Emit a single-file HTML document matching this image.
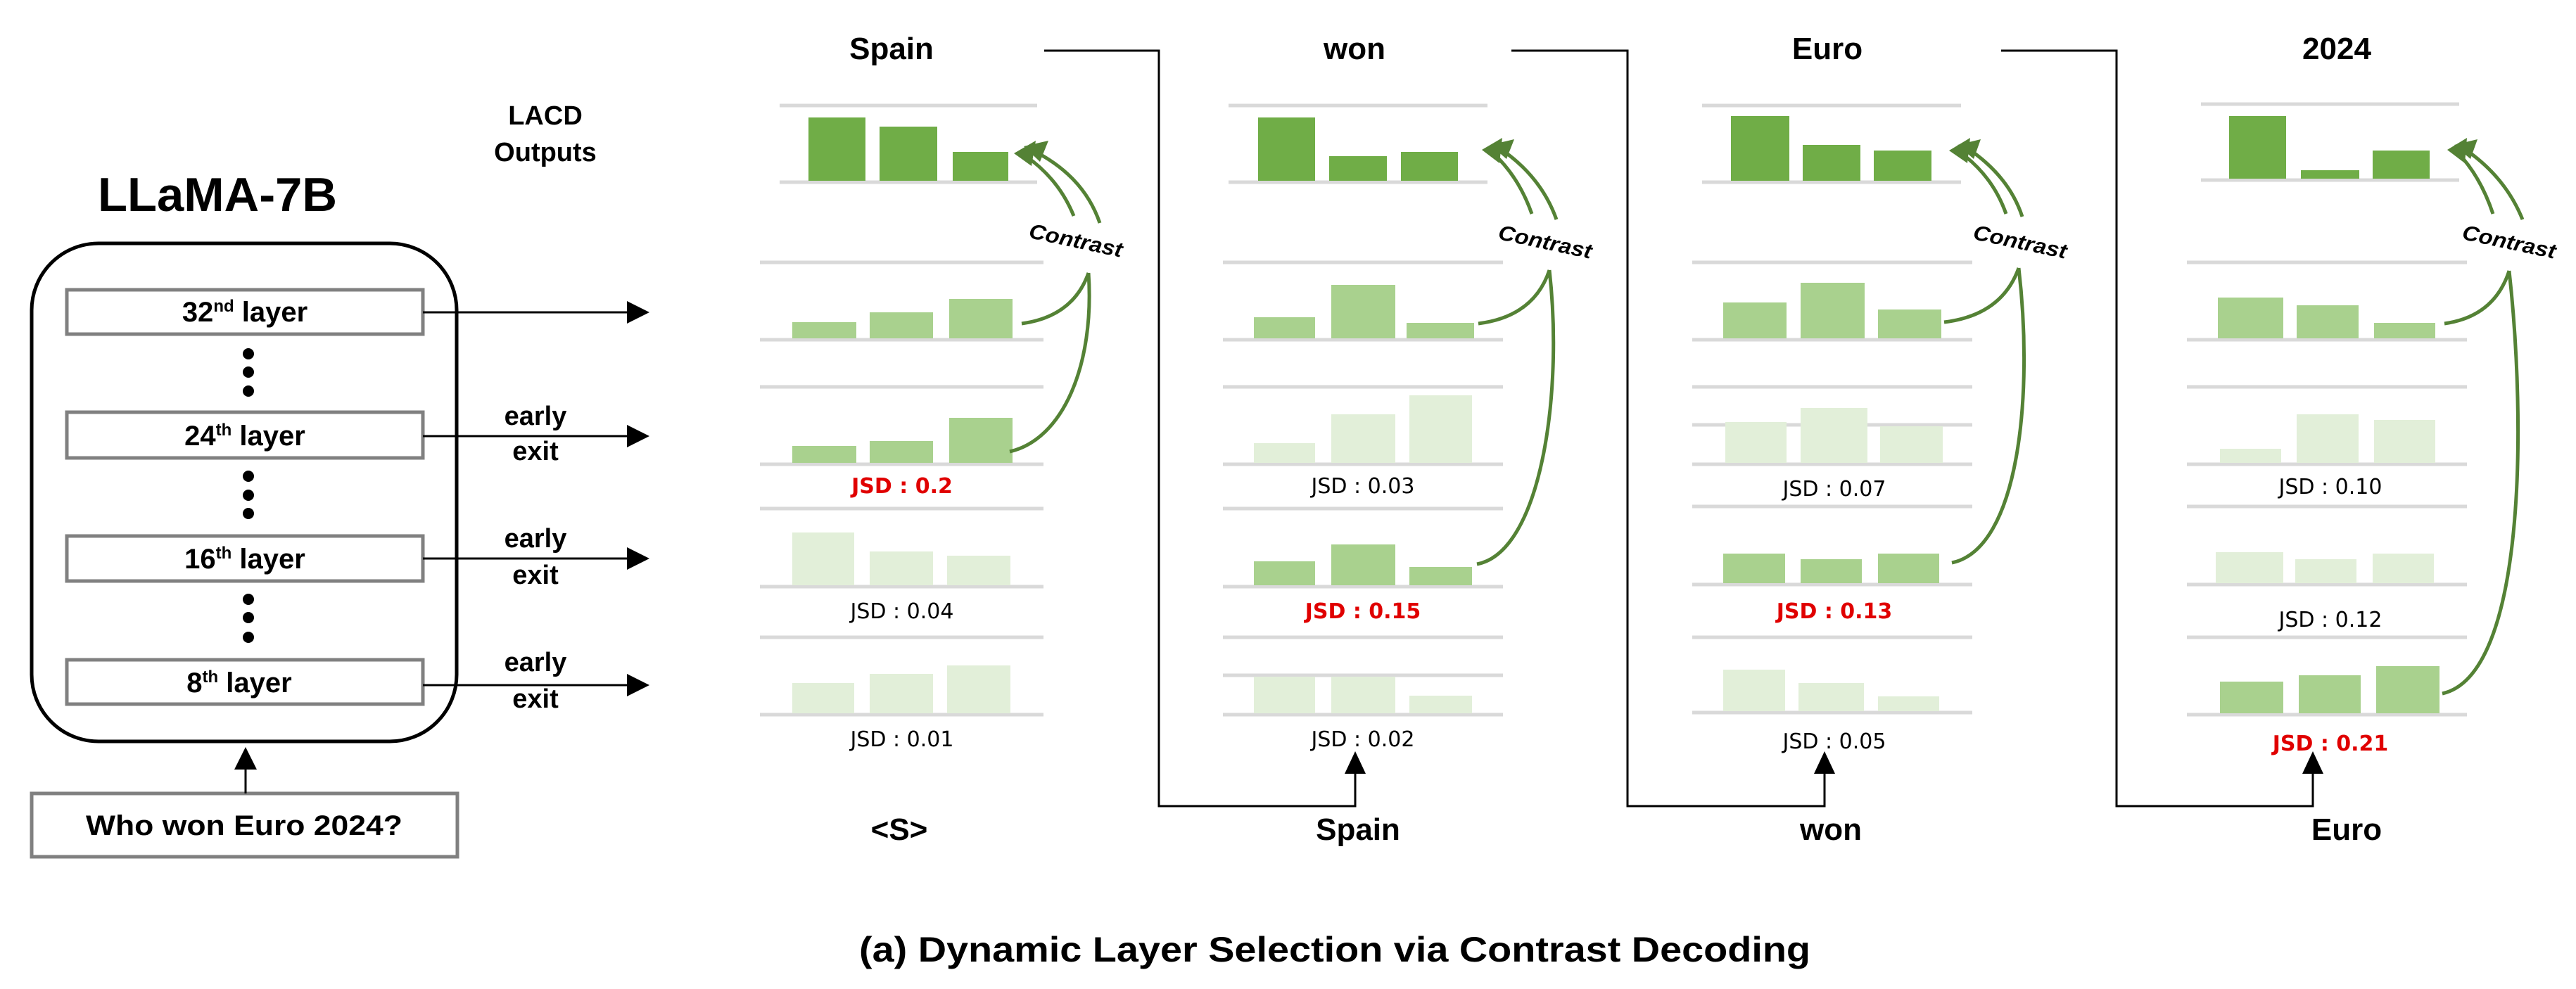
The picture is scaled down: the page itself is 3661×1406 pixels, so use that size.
<!DOCTYPE html>
<html><head><meta charset="utf-8"><style>
html,body{margin:0;padding:0;background:#fff;}
svg{display:block;}
text{font-family:"Liberation Sans",sans-serif;font-weight:bold;fill:#000;}
.j{font-family:"DejaVu Sans",sans-serif;font-weight:normal;font-size:30px;}
.r{fill:#e00000;font-weight:bold;font-family:"DejaVu Sans",sans-serif;font-size:30px;}
.g{stroke:#d9d9d9;stroke-width:5;}
.d{fill:#70ad47}.m{fill:#a9d18e}.l{fill:#e2efd9}
.arc{fill:none;stroke:#548235;stroke-width:5;}
.ct{font-size:30px;font-style:italic;}
</style></head><body>
<svg width="3661" height="1406" viewBox="0 0 3661 1406" xmlns="http://www.w3.org/2000/svg">
<defs>
<marker id="ah" markerWidth="10" markerHeight="10" refX="6" refY="5" orient="auto" markerUnits="userSpaceOnUse" viewBox="0 0 10 10"><path d="M0,0 L10,5 L0,10 z" fill="#000"/></marker>
</defs>
<!-- Left section -->
<text x="775" y="177" font-size="38" text-anchor="middle">LACD</text>
<text x="775" y="229" font-size="38" text-anchor="middle">Outputs</text>
<text x="309" y="300" font-size="68" text-anchor="middle" textLength="340" lengthAdjust="spacingAndGlyphs">LLaMA-7B</text>
<rect x="45" y="346" width="604" height="708" rx="95" ry="95" fill="none" stroke="#000" stroke-width="5"/>
<g fill="none" stroke="#808080" stroke-width="5">
<rect x="95" y="412" width="506" height="63"/>
<rect x="95" y="586" width="506" height="65"/>
<rect x="95" y="762" width="506" height="64"/>
<rect x="95" y="938" width="506" height="63"/>
<rect x="45" y="1128" width="605" height="90"/>
</g>
<text x="348" y="457" font-size="40" text-anchor="middle">32<tspan font-size="24" dy="-14">nd</tspan><tspan dy="14"> layer</tspan></text>
<text x="348" y="633" font-size="40" text-anchor="middle">24<tspan font-size="24" dy="-14">th</tspan><tspan dy="14"> layer</tspan></text>
<text x="348" y="808" font-size="40" text-anchor="middle">16<tspan font-size="24" dy="-14">th</tspan><tspan dy="14"> layer</tspan></text>
<text x="340" y="984" font-size="40" text-anchor="middle">8<tspan font-size="24" dy="-14">th</tspan><tspan dy="14"> layer</tspan></text>
<text x="347" y="1187" font-size="40" text-anchor="middle" textLength="450" lengthAdjust="spacingAndGlyphs">Who won Euro 2024?</text>
<g fill="#000">
<circle cx="353" cy="503" r="8"/><circle cx="353" cy="529" r="8"/><circle cx="353" cy="556" r="8"/>
<circle cx="353" cy="677" r="8"/><circle cx="353" cy="704" r="8"/><circle cx="353" cy="730" r="8"/>
<circle cx="353" cy="852" r="8"/><circle cx="353" cy="878" r="8"/><circle cx="353" cy="906" r="8"/>
</g>
<g stroke="#000" stroke-width="3">
<line x1="601" y1="444" x2="895" y2="444"/><line x1="601" y1="620" x2="895" y2="620"/>
<line x1="601" y1="794" x2="895" y2="794"/><line x1="601" y1="974" x2="895" y2="974"/>
<line x1="349" y1="1128" x2="349" y2="1090"/>
</g>
<g fill="#000">
<polygon points="923,444 891,428 891,460"/><polygon points="923,620 891,604 891,636"/>
<polygon points="923,794 891,778 891,810"/><polygon points="923,974 891,958 891,990"/>
<polygon points="349,1062 333,1094 365,1094"/>
</g>
<g font-size="38" text-anchor="middle">
<text x="761" y="604">early</text><text x="761" y="654">exit</text>
<text x="761" y="778">early</text><text x="761" y="830">exit</text>
<text x="761" y="954">early</text><text x="761" y="1006">exit</text>
</g>

<!-- connectors -->
<g fill="none" stroke="#000" stroke-width="3">
<polyline points="1484,72 1647,72 1647,1146 1926,1146 1926,1098"/>
<polyline points="2148,72 2313,72 2313,1146 2593,1146 2593,1098"/>
<polyline points="2844,72 3008,72 3008,1146 3287,1146 3287,1098"/>
</g>
<g fill="#000">
<polygon points="1926,1068 1911,1100 1941,1100"/>
<polygon points="2593,1068 2578,1100 2608,1100"/>
<polygon points="3287,1068 3272,1100 3302,1100"/>
</g>

<!-- titles -->
<g font-size="44" text-anchor="middle">
<text x="1267" y="84">Spain</text><text x="1925" y="84">won</text>
<text x="2597" y="84">Euro</text><text x="3321" y="84">2024</text>
<text x="1278" y="1194">&lt;S&gt;</text><text x="1930" y="1194">Spain</text>
<text x="2602" y="1194">won</text><text x="3335" y="1194">Euro</text>
</g>

<!-- Panel 1 -->
<g class="g">
<line x1="1108" y1="150" x2="1474" y2="150"/><line x1="1108" y1="259" x2="1474" y2="259"/>
<line x1="1080" y1="373" x2="1483" y2="373"/><line x1="1080" y1="483" x2="1483" y2="483"/>
<line x1="1080" y1="550" x2="1483" y2="550"/><line x1="1080" y1="660" x2="1483" y2="660"/>
<line x1="1080" y1="723" x2="1483" y2="723"/><line x1="1080" y1="834" x2="1483" y2="834"/>
<line x1="1080" y1="906" x2="1483" y2="906"/><line x1="1080" y1="1016" x2="1483" y2="1016"/>
</g>
<rect class="d" x="1149" y="167" width="81" height="90"/><rect class="d" x="1250" y="180" width="82" height="77"/><rect class="d" x="1354" y="216" width="79" height="41"/>
<rect class="m" x="1126" y="458" width="91" height="23"/><rect class="m" x="1236" y="444" width="90" height="37"/><rect class="m" x="1349" y="425" width="90" height="56"/>
<rect class="m" x="1126" y="634" width="91" height="24"/><rect class="m" x="1236" y="627" width="90" height="31"/><rect class="m" x="1349" y="594" width="90" height="64"/>
<rect class="l" x="1126" y="757" width="88" height="75"/><rect class="l" x="1236" y="784" width="90" height="48"/><rect class="l" x="1346" y="790" width="90" height="42"/>
<rect class="l" x="1126" y="971" width="88" height="43"/><rect class="l" x="1236" y="958" width="90" height="56"/><rect class="l" x="1346" y="946" width="90" height="68"/>
<text class="r" x="1282" y="701" text-anchor="middle">JSD : 0.2</text>
<text class="j" x="1282" y="879" text-anchor="middle">JSD : 0.04</text>
<text class="j" x="1282" y="1061" text-anchor="middle">JSD : 0.01</text>

<!-- Panel 2 -->
<g class="g">
<line x1="1746" y1="150" x2="2114" y2="150"/><line x1="1746" y1="259" x2="2114" y2="259"/>
<line x1="1738" y1="373" x2="2136" y2="373"/><line x1="1738" y1="483" x2="2136" y2="483"/>
<line x1="1738" y1="550" x2="2136" y2="550"/><line x1="1738" y1="660" x2="2136" y2="660"/>
<line x1="1738" y1="723" x2="2136" y2="723"/><line x1="1738" y1="834" x2="2136" y2="834"/>
<line x1="1738" y1="906" x2="2136" y2="906"/><line x1="1738" y1="960" x2="2136" y2="960"/><line x1="1738" y1="1016" x2="2136" y2="1016"/>
</g>
<rect class="d" x="1788" y="167" width="81" height="90"/><rect class="d" x="1889" y="222" width="82" height="35"/><rect class="d" x="1991" y="216" width="81" height="41"/>
<rect class="m" x="1782" y="451" width="87" height="30"/><rect class="m" x="1892" y="405" width="91" height="76"/><rect class="m" x="1999" y="459" width="96" height="22"/>
<rect class="l" x="1782" y="630" width="87" height="28"/><rect class="l" x="1892" y="589" width="91" height="69"/><rect class="l" x="2003" y="562" width="89" height="96"/>
<rect class="m" x="1782" y="798" width="87" height="34"/><rect class="m" x="1892" y="774" width="91" height="58"/><rect class="m" x="2003" y="806" width="89" height="26"/>
<rect class="l" x="1782" y="962" width="87" height="52"/><rect class="l" x="1892" y="962" width="91" height="52"/><rect class="l" x="2003" y="989" width="89" height="25"/>
<text class="j" x="1937" y="701" text-anchor="middle">JSD : 0.03</text>
<text class="r" x="1937" y="879" text-anchor="middle">JSD : 0.15</text>
<text class="j" x="1937" y="1061" text-anchor="middle">JSD : 0.02</text>

<!-- Panel 3 -->
<g class="g">
<line x1="2419" y1="150" x2="2787" y2="150"/><line x1="2419" y1="259" x2="2787" y2="259"/>
<line x1="2405" y1="373" x2="2803" y2="373"/><line x1="2405" y1="483" x2="2803" y2="483"/>
<line x1="2405" y1="550" x2="2803" y2="550"/><line x1="2405" y1="604" x2="2803" y2="604"/><line x1="2405" y1="660" x2="2803" y2="660"/>
<line x1="2405" y1="720" x2="2803" y2="720"/><line x1="2405" y1="831" x2="2803" y2="831"/>
<line x1="2405" y1="906" x2="2803" y2="906"/><line x1="2405" y1="1013" x2="2803" y2="1013"/>
</g>
<rect class="d" x="2460" y="165" width="83" height="92"/><rect class="d" x="2562" y="206" width="82" height="51"/><rect class="d" x="2663" y="214" width="82" height="43"/>
<rect class="m" x="2449" y="430" width="90" height="51"/><rect class="m" x="2559" y="402" width="91" height="79"/><rect class="m" x="2669" y="440" width="90" height="41"/>
<rect class="l" x="2452" y="600" width="87" height="58"/><rect class="l" x="2559" y="580" width="95" height="78"/><rect class="l" x="2672" y="606" width="89" height="52"/>
<rect class="m" x="2449" y="787" width="88" height="42"/><rect class="m" x="2559" y="795" width="87" height="34"/><rect class="m" x="2669" y="787" width="87" height="42"/>
<rect class="l" x="2449" y="952" width="88" height="59"/><rect class="l" x="2556" y="971" width="93" height="40"/><rect class="l" x="2669" y="990" width="87" height="21"/>
<text class="j" x="2607" y="705" text-anchor="middle">JSD : 0.07</text>
<text class="r" x="2607" y="879" text-anchor="middle">JSD : 0.13</text>
<text class="j" x="2607" y="1064" text-anchor="middle">JSD : 0.05</text>

<!-- Panel 4 -->
<g class="g">
<line x1="3128" y1="148" x2="3495" y2="148"/><line x1="3128" y1="256" x2="3495" y2="256"/>
<line x1="3108" y1="373" x2="3506" y2="373"/><line x1="3108" y1="483" x2="3506" y2="483"/>
<line x1="3108" y1="550" x2="3506" y2="550"/><line x1="3108" y1="660" x2="3506" y2="660"/>
<line x1="3108" y1="720" x2="3506" y2="720"/><line x1="3108" y1="831" x2="3506" y2="831"/>
<line x1="3108" y1="906" x2="3506" y2="906"/><line x1="3108" y1="1016" x2="3506" y2="1016"/>
</g>
<rect class="d" x="3168" y="165" width="81" height="89"/><rect class="d" x="3270" y="242" width="83" height="12"/><rect class="d" x="3372" y="214" width="81" height="40"/>
<rect class="m" x="3152" y="423" width="93" height="58"/><rect class="m" x="3264" y="434" width="88" height="47"/><rect class="m" x="3374" y="459" width="87" height="22"/>
<rect class="l" x="3155" y="638" width="87" height="20"/><rect class="l" x="3264" y="589" width="88" height="69"/><rect class="l" x="3374" y="597" width="87" height="61"/>
<rect class="l" x="3149" y="785" width="96" height="44"/><rect class="l" x="3262" y="795" width="87" height="34"/><rect class="l" x="3372" y="787" width="87" height="42"/>
<rect class="m" x="3155" y="969" width="90" height="45"/><rect class="m" x="3267" y="960" width="88" height="54"/><rect class="m" x="3377" y="947" width="90" height="67"/>
<text class="j" x="3312" y="702" text-anchor="middle">JSD : 0.10</text>
<text class="j" x="3312" y="891" text-anchor="middle">JSD : 0.12</text>
<text class="r" x="3312" y="1067" text-anchor="middle">JSD : 0.21</text>

<!-- Contrast arcs -->
<g class="arc">
<path d="M1452,460 Q1525,450 1547,388"/><path d="M1435,642 C1510,625 1556,520 1547,388"/>
<path d="M1526,307 Q1505,255 1458,222"/><path d="M1563,317 Q1540,250 1468,214"/>
<path d="M2101,460 Q2180,450 2202,384"/><path d="M2099,802 C2190,785 2222,560 2202,384"/>
<path d="M2177,304 Q2158,250 2120,216"/><path d="M2212,312 Q2190,250 2130,210"/>
<path d="M2763,458 Q2845,448 2869,381"/><path d="M2774,800 C2870,780 2890,560 2869,381"/>
<path d="M2851,304 Q2832,250 2785,216"/><path d="M2874,308 Q2855,250 2795,210"/>
<path d="M3474,460 Q3545,450 3566,385"/><path d="M3471,986 C3590,960 3590,600 3566,385"/>
<path d="M3543,304 Q3525,250 3492,216"/><path d="M3585,312 Q3560,250 3500,210"/>
</g>
<g fill="#548235">
<polygon points="1441,218 1472,200 1466,236"/><polygon points="1455,208 1490,200 1478,230"/>
<polygon points="2106,213 2135,196 2131,232"/><polygon points="2118,206 2152,198 2141,226"/>
<polygon points="2770,214 2800,196 2796,232"/><polygon points="2782,206 2815,198 2805,226"/>
<polygon points="3478,213 3506,196 3503,232"/><polygon points="3488,206 3521,198 3511,226"/>
</g>
<g class="ct">
<text x="1529" y="352" text-anchor="middle" transform="rotate(12 1529 342)" textLength="135" lengthAdjust="spacingAndGlyphs">Contrast</text>
<text x="2196" y="354" text-anchor="middle" transform="rotate(12 2196 344)" textLength="135" lengthAdjust="spacingAndGlyphs">Contrast</text>
<text x="2871" y="354" text-anchor="middle" transform="rotate(12 2871 344)" textLength="135" lengthAdjust="spacingAndGlyphs">Contrast</text>
<text x="3566" y="354" text-anchor="middle" transform="rotate(12 3566 344)" textLength="135" lengthAdjust="spacingAndGlyphs">Contrast</text>
</g>

<text x="1897" y="1367" font-size="50" text-anchor="middle" textLength="1352" lengthAdjust="spacingAndGlyphs">(a) Dynamic Layer Selection via Contrast Decoding</text>
</svg>
</body></html>
